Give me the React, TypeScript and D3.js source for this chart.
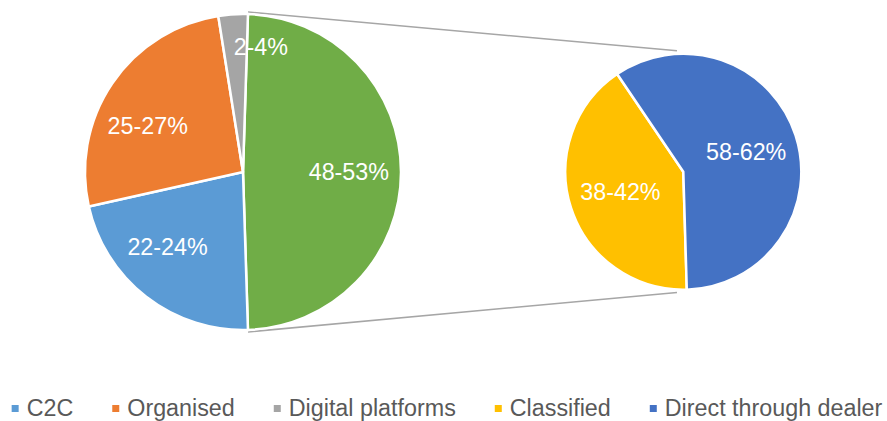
import React, { useEffect, useRef } from 'react';
import * as d3 from 'd3';

// Main pie: the first entry ("Other") is broken out into the second pie
const mainCategories = ['Other', 'C2C', 'Organised', 'Digital platforms'];
const mainValues = [49, 22, 26, 3];
const mainLabels = ['48-53%', '22-24%', '25-27%', '2-4%'];
const mainColors = ['#70AD47', '#5B9BD5', '#ED7D31', '#A5A5A5'];

// Second pie (breakdown of "Other")
const subCategories = ['Classified', 'Direct through dealer'];
const subValues = [41, 59];
const subLabels = ['38-42%', '58-62%'];
const subColors = ['#FFC000', '#4472C4'];

// Legend order
const legendNames = ['C2C', 'Organised', 'Digital platforms', 'Classified', 'Direct through dealer'];
const legendColors = ['#5B9BD5', '#ED7D31', '#A5A5A5', '#FFC000', '#4472C4'];

const FONT = '"Liberation Sans", Arial, Helvetica, sans-serif';
const rad = (deg: number) => (deg * Math.PI) / 180;

const App: React.FC = () => {
  const svgRef = useRef<SVGSVGElement>(null);

  useEffect(() => {
    if (!svgRef.current) return;
    const width = 887;
    const height = 421;

    const svg = d3.select(svgRef.current);
    svg.selectAll('*').remove();
    svg.attr('width', width).attr('height', height);

    const c1 = { x: 243, y: 172, r: 158 };
    const c2 = { x: 683.3, y: 171.7, r: 118 };

    // main pie: "Other" centred on the right-hand side
    const total = d3.sum(mainValues);
    const otherSpan = (mainValues[0] / total) * 2 * Math.PI;
    const start1 = Math.PI / 2 - otherSpan / 2;
    const pie1 = d3.pie<number>().sort(null).startAngle(start1).endAngle(start1 + 2 * Math.PI);
    const arcs1 = pie1(mainValues);
    const arc1 = d3.arc<d3.PieArcDatum<number>>().innerRadius(0).outerRadius(c1.r);

    const pie2 = d3.pie<number>().sort(null).startAngle(rad(178.3)).endAngle(rad(178.3) + 2 * Math.PI);
    const arcs2 = pie2(subValues);
    const arc2 = d3.arc<d3.PieArcDatum<number>>().innerRadius(0).outerRadius(c2.r);

    const polar = (cx: number, cy: number, r: number, a: number): [number, number] => [
      cx + r * Math.sin(a),
      cy - r * Math.cos(a),
    ];

    // connector lines
    const other = arcs1[0];
    const lines: [[number, number], [number, number]][] = [
      [polar(c1.x, c1.y, c1.r + 2, other.startAngle), polar(c2.x, c2.y, c2.r + 3, rad(-3))],
      [polar(c1.x, c1.y, c1.r + 2, other.endAngle), polar(c2.x, c2.y, c2.r + 3, rad(183))],
    ];
    svg.selectAll('.conn')
      .data(lines)
      .enter().append('line')
      .attr('x1', d => d[0][0]).attr('y1', d => d[0][1])
      .attr('x2', d => d[1][0]).attr('y2', d => d[1][1])
      .attr('stroke', '#A6A6A6')
      .attr('stroke-width', 1.5);

    const g1 = svg.append('g').attr('transform', `translate(${c1.x},${c1.y})`);
    g1.selectAll('path')
      .data(arcs1)
      .enter().append('path')
      .attr('d', arc1)
      .attr('fill', (_, i) => mainColors[i])
      .attr('stroke', '#fff')
      .attr('stroke-width', 2.5)
      .attr('stroke-linejoin', 'round');

    // label placement tweaks (Excel best fit)
    const shift1 = [0, 7.4, -8.4, 11.7];
    const factor1 = [0.67, 0.673, 0.67, 0.8];
    const labelPos = (d: d3.PieArcDatum<number>, i: number) =>
      polar(0, 0, c1.r * factor1[i], (d.startAngle + d.endAngle) / 2 + rad(shift1[i]));
    g1.selectAll('text')
      .data(arcs1)
      .enter().append('text')
      .attr('x', (d, i) => labelPos(d, i)[0])
      .attr('y', (d, i) => labelPos(d, i)[1])
      .attr('dy', '0.36em')
      .attr('text-anchor', 'middle')
      .style('font-family', FONT)
      .style('font-size', '23.3px')
      .style('fill', '#fff')
      .text((_, i) => mainLabels[i]);

    const g2 = svg.append('g').attr('transform', `translate(${c2.x},${c2.y})`);
    g2.selectAll('path')
      .data(arcs2)
      .enter().append('path')
      .attr('d', arc2)
      .attr('fill', (_, i) => subColors[i])
      .attr('stroke', '#fff')
      .attr('stroke-width', 2.5)
      .attr('stroke-linejoin', 'round');

    const labelArc2 = d3.arc<d3.PieArcDatum<number>>().innerRadius(c2.r * 0.56 * 2).outerRadius(0);
    g2.selectAll('text')
      .data(arcs2)
      .enter().append('text')
      .attr('transform', d => `translate(${labelArc2.centroid(d)})`)
      .attr('dy', '0.36em')
      .attr('text-anchor', 'middle')
      .style('font-family', FONT)
      .style('font-size', '23.3px')
      .style('fill', '#fff')
      .text((_, i) => subLabels[i]);

    // Legend
    const legend = svg.append('g');
    const items = legend.selectAll('.item')
      .data(legendNames)
      .enter().append('g')
      .attr('class', 'item');
    items.append('rect')
      .attr('width', 7).attr('height', 7)
      .attr('y', 405)
      .attr('fill', (_, i) => legendColors[i]);
    const texts = items.append('text')
      .attr('x', 15)
      .attr('y', 416.3)
      .style('font-family', FONT)
      .style('font-size', '23.3px')
      .style('fill', '#595959')
      .text(d => d);

    const widths: number[] = [];
    texts.each(function () {
      widths.push(15 + (this as SVGTextElement).getComputedTextLength());
    });
    const gap = 39;
    const totalW = d3.sum(widths) + gap * (widths.length - 1);
    let x = 447 - totalW / 2;
    items.attr('transform', (_, i) => {
      const t = `translate(${x},0)`;
      x += widths[i] + gap;
      return t;
    });
    void mainCategories;
    void subCategories;
  }, []);

  return (
    <div style={{ position: 'absolute', left: 0, top: 0 }}>
      <svg ref={svgRef} width="887" height="421" viewBox="0 0 887 421" style={{ display: 'block' }}></svg>
    </div>
  );
};

export default App;
